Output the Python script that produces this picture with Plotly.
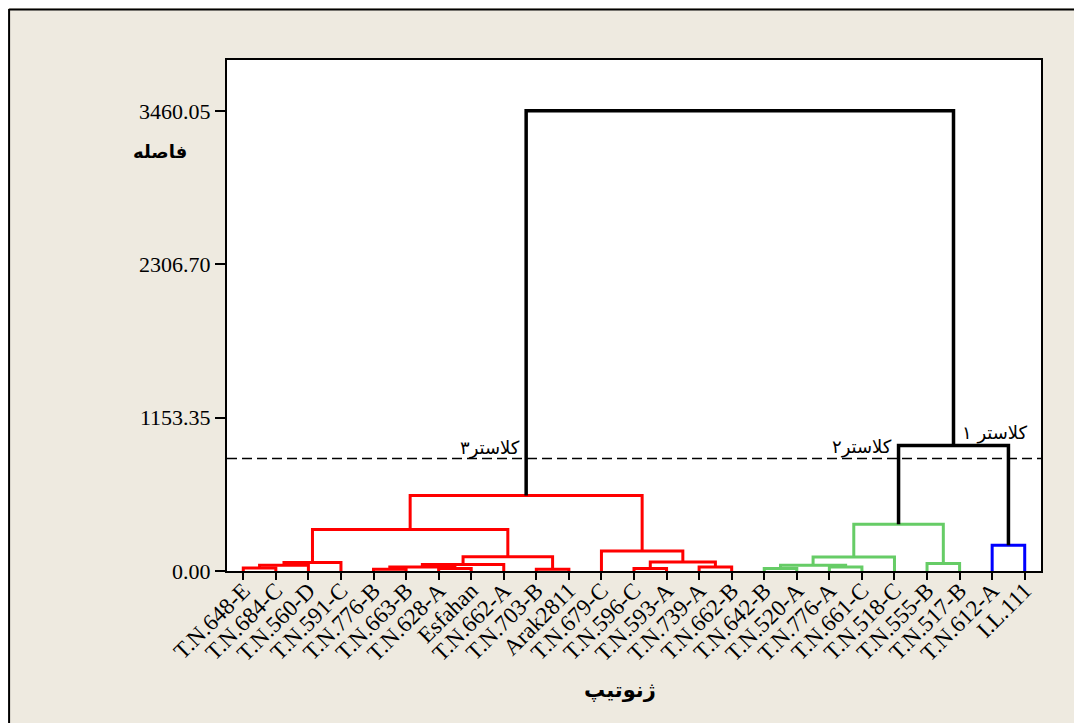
import plotly.graph_objects as go

# ---------------- data ----------------
leaf_labels = ["T.N.648-E", "T.N.684-C", "T.N.560-D", "T.N.591-C", "T.N.776-B",
               "T.N.663-B", "T.N.628-A", "Esfahan", "T.N.662-A", "T.N.703-B",
               "Arak2811", "T.N.679-C", "T.N.596-C", "T.N.593-A", "T.N.739-A",
               "T.N.662-B", "T.N.642-B", "T.N.520-A", "T.N.776-A", "T.N.661-C",
               "T.N.518-C", "T.N.555-B", "T.N.517-B", "T.N.612-A", "I.L.111"]

# merges (scipy-like: leaves 0..24, new clusters numbered from 25)
merge_left = [0, 25, 26, 4, 6, 28, 30, 9, 31, 27, 12, 14, 35, 11, 34,
              16, 18, 40, 42, 21, 43, 23, 45, 39]
merge_right = [1, 2, 3, 5, 7, 29, 8, 10, 32, 33, 13, 15, 36, 37, 38,
               17, 19, 41, 20, 22, 44, 24, 46, 47]
merge_height = [23, 44, 64, 13, 18, 30, 48, 13, 107, 312, 18, 30, 68, 151, 568,
                18, 30, 43, 105, 56, 351, 193, 944, 3460.05]
merge_group = ["red"] * 15 + ["green"] * 6 + ["blue"] + ["black"] * 2

y_tick_values = [0.0, 1153.35, 2306.70, 3460.05]
y_tick_text = ["0.00", "1153.35", "2306.70", "3460.05"]

cut_height = 845
cluster_names = ["کلاستر۳", "کلاستر۲", "کلاستر ۱"]
cluster_label_x = [9.55, 21.0, 25.15]
cluster_label_y = [925, 935, 1035]

colors = {"red": "#FF0000", "green": "#66CC66", "blue": "#0000FF", "black": "#000000"}
widths = {"red": 3, "green": 3, "blue": 3, "black": 3.5}

# ---------------- build dendrogram ----------------
n = len(leaf_labels)
pos = {i: i + 1 for i in range(n)}
hgt = {i: 0.0 for i in range(n)}
segs = {k: ([], []) for k in colors}
for k, (a, b, h, g) in enumerate(zip(merge_left, merge_right, merge_height, merge_group)):
    xs, ys = segs[g]
    xs += [pos[a], pos[a], pos[b], pos[b], None]
    ys += [hgt[a], h, h, hgt[b], None]
    node = n + k
    pos[node] = (pos[a] + pos[b]) / 2
    hgt[node] = h

fig = go.Figure()
for g, (xs, ys) in segs.items():
    fig.add_trace(go.Scatter(x=xs, y=ys, mode="lines",
                             line=dict(color=colors[g], width=widths[g]),
                             hoverinfo="skip", showlegend=False))

bg = "#EEEAE0"
fig.update_layout(
    width=1082, height=723,
    margin=dict(l=219, r=49, t=52, b=160),
    paper_bgcolor=bg, plot_bgcolor="white",
    showlegend=False,
    font=dict(family="Liberation Serif, Times New Roman, serif", size=22, color="black"),
)
fig.update_xaxes(range=[0.5, 25.5], tickmode="array",
                 tickvals=list(range(1, n + 1)), ticktext=leaf_labels,
                 tickangle=-45, ticks="outside", ticklen=7, tickwidth=1.5, tickcolor="black",
                 ticklabelstandoff=-12, tickfont=dict(size=23),
                 showline=True, linecolor="black", linewidth=2, mirror=True,
                 showgrid=False, zeroline=False)
fig.update_yaxes(range=[0, 3842], tickmode="array",
                 tickvals=y_tick_values, ticktext=y_tick_text,
                 ticks="outside", ticklen=10, tickwidth=1.5, tickcolor="black",
                 showline=True, linecolor="black", linewidth=2, mirror=True,
                 showgrid=False, zeroline=False)

# cut line
fig.add_shape(type="line", xref="paper", yref="y", x0=0, x1=1, y0=cut_height, y1=cut_height,
              line=dict(color="black", width=1.5, dash="10px,5px"))

# outer frame (left and top edges of the figure)
fig.add_shape(type="line", xref="paper", yref="paper", x0=-0.2677, x1=-0.2677, y0=1.0998, y1=-0.4,
              line=dict(color="black", width=2))
fig.add_shape(type="line", xref="paper", yref="paper", x0=-0.2677, x1=1.1, y0=1.0988, y1=1.0988,
              line=dict(color="black", width=2))

for name, cx, cy in zip(cluster_names, cluster_label_x, cluster_label_y):
    fig.add_annotation(x=cx, y=cy, xref="x", yref="y", text=name, showarrow=False,
                       xanchor="right", yanchor="middle",
                       font=dict(family="DejaVu Sans, sans-serif", size=18, color="black"))

fig.add_annotation(x=-0.0823, y=0.82, xref="paper", yref="paper", text="<b>فاصله</b>",
                   showarrow=False, xanchor="center", yanchor="middle",
                   font=dict(family="DejaVu Sans, sans-serif", size=18, color="black"))
fig.add_annotation(x=0.483, y=-0.233, xref="paper", yref="paper", text="<b>ژنوتیپ</b>",
                   showarrow=False, xanchor="center", yanchor="middle",
                   font=dict(family="DejaVu Sans, sans-serif", size=21, color="black"))

fig.write_html("out.html")
